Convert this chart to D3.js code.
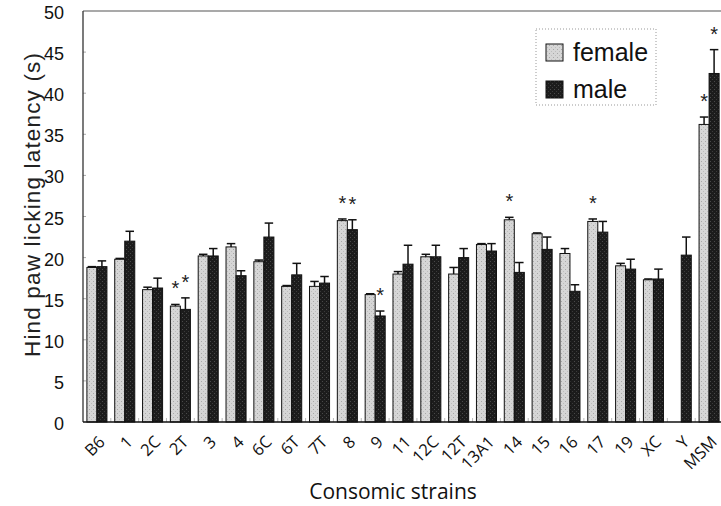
<!DOCTYPE html>
<html>
<head>
<meta charset="utf-8">
<script src="https://cdn.jsdelivr.net/npm/d3@7/dist/d3.min.js"></script>
<style>
  html, body { margin: 0; padding: 0; background: #fff; }
  svg { display: block; }
</style>
</head>
<body>
<svg id="chart" width="721" height="506"></svg>
<script>
// Hind paw licking latency per consomic strain, female vs male (mean + SE)
const strains = ["B6","1","2C","2T","3","4","6C","6T","7T","8","9","11","12C","12T","13A1","14","15","16","17","19","XC","Y","MSM"];
const femaleMean = [18.8,19.8,16.1,14.1,20.2,21.3,19.5,16.5,16.5,24.5,15.5,18.0,20.1,18.0,21.6,24.6,22.9,20.5,24.4,19.0,17.3,null,36.2];
const femaleErr  = [0.1,0.1,0.3,0.2,0.2,0.4,0.2,0.1,0.6,0.2,0.1,0.3,0.3,0.8,0.1,0.3,0.1,0.6,0.3,0.3,0.1,null,0.9];
const maleMean   = [18.9,22.0,16.3,13.7,20.2,17.8,22.5,17.9,16.9,23.4,12.9,19.2,20.1,20.0,20.8,18.2,21.0,15.9,23.1,18.6,17.4,20.3,42.4];
const maleErr    = [0.7,1.2,1.2,1.4,0.9,0.6,1.7,1.4,0.8,1.2,0.6,2.3,1.4,1.1,0.9,1.2,1.5,0.8,1.3,1.2,1.2,2.2,2.9];
// strains significantly different from B6
const sigFemale = ["2T","8","14","17","MSM"];
const sigMale   = ["2T","8","9","MSM"];
const yTicks = [0,5,10,15,20,25,30,35,40,45,50];
const seriesNames = ["female","male"];

const svg = d3.select("#chart");
const plotLeft = 83, plotRight = 723, plotTop = 11, plotBottom = 422;

const x = d3.scaleBand().domain(strains).range([plotLeft, plotRight]).paddingInner(0.28).paddingOuter(0.14);
const xs = d3.scaleBand().domain(seriesNames).range([0, x.bandwidth()]);
const y = d3.scaleLinear().domain([0, 50]).range([plotBottom, plotTop]);

// stipple textures for the bar fills
const defs = svg.append("defs");
const pf = defs.append("pattern").attr("id", "pat-female").attr("width", 4).attr("height", 4).attr("patternUnits", "userSpaceOnUse");
pf.append("rect").attr("width", 4).attr("height", 4).attr("fill", "#d6d6d6");
pf.append("rect").attr("x", 1).attr("y", 1).attr("width", 1).attr("height", 1).attr("fill", "#a8a8a8");
pf.append("rect").attr("x", 3).attr("y", 3).attr("width", 1).attr("height", 1).attr("fill", "#bdbdbd");
const pm = defs.append("pattern").attr("id", "pat-male").attr("width", 4).attr("height", 4).attr("patternUnits", "userSpaceOnUse");
pm.append("rect").attr("width", 4).attr("height", 4).attr("fill", "#1c1c1c");
pm.append("rect").attr("x", 2).attr("y", 1).attr("width", 1).attr("height", 1).attr("fill", "#4a4a4a");
pm.append("rect").attr("x", 0).attr("y", 3).attr("width", 1).attr("height", 1).attr("fill", "#3a3a3a");

// frame: top line and faint inner ticks
svg.append("line").attr("x1", plotLeft).attr("x2", 721).attr("y1", plotTop).attr("y2", plotTop)
  .attr("stroke", "#555").attr("stroke-width", 1.2);

svg.append("g").selectAll("line").data(yTicks.slice(1, -1)).join("line")
  .attr("x1", plotLeft).attr("x2", plotLeft + 3)
  .attr("y1", d => y(d)).attr("y2", d => y(d))
  .attr("stroke", "#aaa").attr("stroke-width", 1);

// group separators on the baseline
svg.append("g").selectAll("line").data(strains.slice(1)).join("line")
  .attr("x1", d => x(d) - x.step() * x.paddingInner() / 2)
  .attr("x2", d => x(d) - x.step() * x.paddingInner() / 2)
  .attr("y1", plotBottom - 4).attr("y2", plotBottom)
  .attr("stroke", "#bbb").attr("stroke-width", 1);

// build per-bar records
const records = [];
strains.forEach((s, i) => {
  records.push({ strain: s, sex: "female", v: femaleMean[i], e: femaleErr[i], sig: sigFemale.includes(s) });
  records.push({ strain: s, sex: "male", v: maleMean[i], e: maleErr[i], sig: sigMale.includes(s) });
});
const bars = records.filter(d => d.v != null);

svg.append("g").selectAll("rect").data(bars).join("rect")
  .attr("x", d => x(d.strain) + xs(d.sex))
  .attr("width", xs.bandwidth())
  .attr("y", d => y(d.v))
  .attr("height", d => y(0) - y(d.v))
  .attr("fill", d => `url(#pat-${d.sex})`)
  .attr("stroke", "#111").attr("stroke-width", 1);

// upper error bars
const capW = 8.5;
const errG = svg.append("g").attr("stroke", "#111").attr("stroke-width", 1.5);
bars.forEach(d => {
  const cx = x(d.strain) + xs(d.sex) + xs.bandwidth() / 2;
  errG.append("line").attr("x1", cx).attr("x2", cx).attr("y1", y(d.v)).attr("y2", y(d.v + d.e));
  errG.append("line").attr("x1", cx - capW / 2).attr("x2", cx + capW / 2).attr("y1", y(d.v + d.e)).attr("y2", y(d.v + d.e));
});

// significance marks
svg.append("g").selectAll("text").data(bars.filter(d => d.sig)).join("text")
  .attr("x", d => x(d.strain) + xs(d.sex) + xs.bandwidth() / 2)
  .attr("y", d => y(d.v + d.e) - 9)
  .attr("text-anchor", "middle")
  .attr("font-family", "Liberation Sans, Arial, sans-serif")
  .attr("font-size", 20).attr("fill", "#222")
  .text("*");

// axis lines
svg.append("line").attr("x1", plotLeft).attr("x2", plotLeft).attr("y1", plotTop).attr("y2", plotBottom)
  .attr("stroke", "#333").attr("stroke-width", 1.3);
svg.append("line").attr("x1", plotLeft).attr("x2", 721).attr("y1", plotBottom).attr("y2", plotBottom)
  .attr("stroke", "#111").attr("stroke-width", 1.5);

// y tick labels
svg.append("g").selectAll("text").data(yTicks).join("text")
  .attr("x", 64).attr("y", d => y(d) + 8)
  .attr("text-anchor", "end")
  .attr("font-family", "Liberation Sans, Arial, sans-serif")
  .attr("font-size", 18).attr("fill", "#111")
  .text(d => d);

// x category labels, rotated
svg.append("g").selectAll("text").data(strains).join("text")
  .attr("transform", d => `translate(${x(d) + x.bandwidth() / 2 + 9},443) rotate(-45)`)
  .attr("text-anchor", "end")
  .attr("font-family", "Open Sans, sans-serif")
  .attr("font-size", 16.5).attr("fill", "#111")
  .text(d => d);

// axis titles
svg.append("text")
  .attr("transform", "translate(40,205) rotate(-90)")
  .attr("text-anchor", "middle")
  .attr("font-family", "Liberation Sans, Arial, sans-serif")
  .attr("font-size", 22.5).attr("fill", "#222")
  .attr("textLength", 304).attr("lengthAdjust", "spacing")
  .text("Hind paw licking latency (s)");

svg.append("text")
  .attr("x", 393).attr("y", 499)
  .attr("text-anchor", "middle")
  .attr("font-family", "Open Sans, sans-serif")
  .attr("font-size", 21).attr("fill", "#111")
  .text("Consomic strains");

// legend
const lg = svg.append("g");
lg.append("rect").attr("x", 536).attr("y", 29).attr("width", 120).attr("height", 76)
  .attr("fill", "#fff").attr("stroke", "#999").attr("stroke-width", 1).attr("stroke-dasharray", "1,2");
seriesNames.forEach((s, i) => {
  const yy = 44 + i * 37;
  lg.append("rect").attr("x", 546).attr("y", yy).attr("width", 17).attr("height", 17)
    .attr("fill", `url(#pat-${s})`).attr("stroke", "#111").attr("stroke-width", 1);
  lg.append("text").attr("x", 573).attr("y", yy + 17)
    .attr("font-family", "Liberation Sans, Arial, sans-serif")
    .attr("font-size", 25).attr("fill", "#111")
    .text(s);
});
</script>
</body>
</html>
